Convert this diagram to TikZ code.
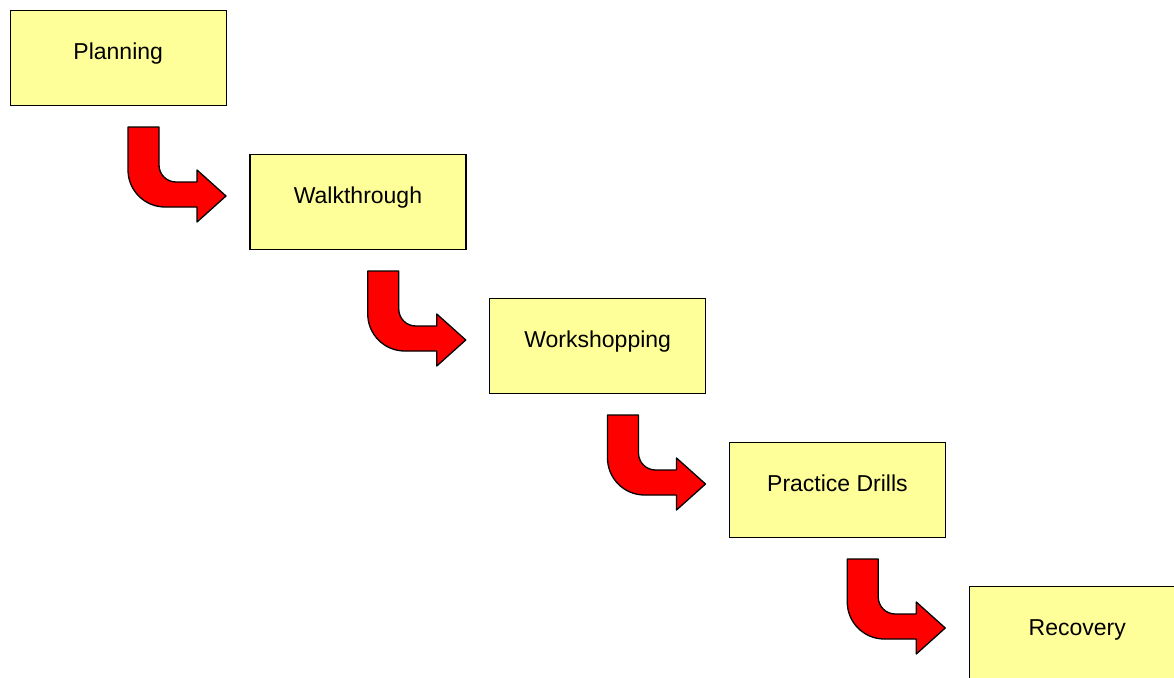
\documentclass[tikz,border=0pt]{standalone}
\usepackage{fontspec}
\setmainfont{Liberation Sans}
\definecolor{boxyellow}{HTML}{FFFF99}
\tikzset{
  stagebox/.style={draw=black, line width=1.4pt, fill=boxyellow, anchor=north west,
    minimum width=216pt, minimum height=95pt, inner sep=0pt,
    text height=16pt, text depth=13pt, font=\fontsize{23}{27}\selectfont},
  bentarrow/.pic={
    \draw[fill=red, draw=black, line width=1.3pt, line join=round]
      (0,0) -- (31,0) -- (31,38)
      .. controls (31,47.4) and (38.6,55) .. (48,55)
      -- (69,55) -- (69,43) -- (98,69) -- (69,95) -- (69,80) -- (37,80)
      .. controls (16.6,80) and (0,63.4) .. (0,43) -- cycle;
  }
}
\begin{document}
\begin{tikzpicture}[x=1pt, y=-1pt]
\useasboundingbox (0,0) rectangle (1174,677);
\begin{scope}
\clip (0,0) rectangle (1174,677);
\node[stagebox] (plan) at (9.5,10) {Planning};
\node[stagebox] (walk) at (249.25,154) {Walkthrough};
\node[stagebox] (work) at (489,298) {Workshopping};
\node[stagebox] (drill) at (728.75,442) {Practice Drills};
\node[stagebox] (recov) at (968.5,586) {Recovery};
\pic at ([shift={(118.5,117)}]plan.north west) {bentarrow};
\pic at ([shift={(118.5,117)}]walk.north west) {bentarrow};
\pic at ([shift={(118.5,117)}]work.north west) {bentarrow};
\pic at ([shift={(118.5,117)}]drill.north west) {bentarrow};
\end{scope}
\end{tikzpicture}
\end{document}
